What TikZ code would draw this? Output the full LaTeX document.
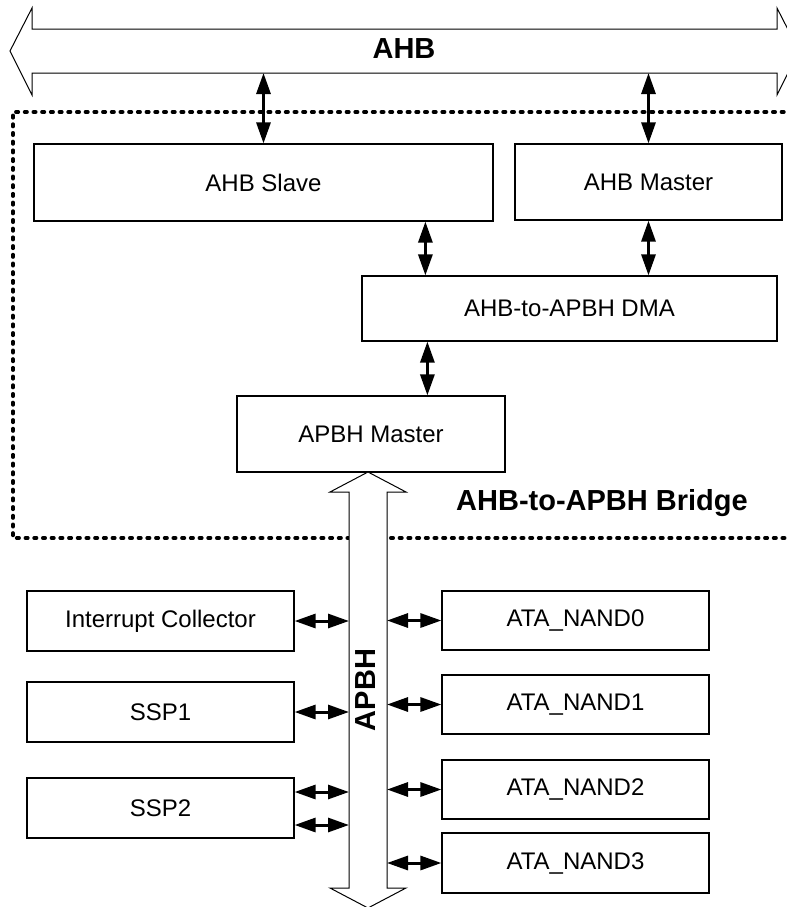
\documentclass[tikz,border=0pt]{standalone}
\usepackage{fontspec}
\setmainfont{Liberation Sans}
\usetikzlibrary{arrows.meta}

\begin{document}
\begin{tikzpicture}[x=0.5pt, y=-0.5pt,
    bloque/.style={draw, line width=0.6pt, fill=white, inner sep=0pt, font=\fontsize{12}{14}\selectfont},
    flecha/.style={line width=1.5pt, {Triangle[length=10.5pt,width=7pt]}-{Triangle[length=10.5pt,width=7pt]}},
    bus/.style={draw, line width=0.5pt, fill=white},
    titulo/.style={font=\bfseries\fontsize{14.5}{17}\selectfont}]
                \useasboundingbox (0,0) rectangle (787,907);

                % Puente AHB-to-APBH (borde punteado)
                \draw[line width=1.8pt, dash pattern=on 1.2pt off 3.15pt, line cap=round] (810,112) -- (13,112) -- (13,538) -- (810,538);
                \node[titulo] (puente) at (602,503) {AHB-to-APBH Bridge};

                % Bus AHB
                \draw[bus] (10,51) -- (32,8) -- (32,29) -- (777,29) -- (777,8) -- (799,51) -- (777,95) -- (777,73) -- (32,73) -- (32,95) -- cycle;
                \node[titulo] (ahb) at (404,49) {AHB};
                \coordinate (ahbbajo) at (0,73);

                % Bloques del puente
                \node[bloque, minimum width=229.5pt, minimum height=38.5pt] (slave) at (263.5,182.5) {AHB Slave};
                \node[bloque, minimum width=133.5pt, minimum height=38pt] (master) at (648.5,182) {AHB Master};
                \node[bloque, minimum width=207.5pt, minimum height=32.5pt] (dma) at (569.5,308.5) {AHB-to-APBH DMA};
                \node[bloque, minimum width=134pt, minimum height=38pt] (apbhm) at (371,434) {APBH Master};

                \draw[flecha] (slave.north) -- (slave.north |- ahbbajo);
                \draw[flecha] (master.north) -- (master.north |- ahbbajo);
                \draw[flecha] ([xshift=32pt]dma.north west) -- ([xshift=32pt]dma.north west |- slave.south);
                \draw[flecha] (master.south) -- (master.south |- dma.north);
                \draw[flecha] ([xshift=33pt]dma.south west) -- ([xshift=33pt]dma.south west |- apbhm.north);

                % Bus APBH
                \draw[bus] (368,472) -- (406,492) -- (387,492) -- (387,888) -- (406,888) -- (368,908) -- (330,888) -- (349,888) -- (349,492) -- (330,492) -- cycle;
                \node[titulo, rotate=90] (apbh) at (366,690) {APBH};
                \coordinate (apbhizq) at (349,0);
                \coordinate (apbhder) at (387,0);

                % Perifericos a la izquierda
                \node[bloque, minimum width=133.5pt, minimum height=30pt] (irq) at (160.5,621) {Interrupt Collector};
                \node[bloque, minimum width=133.5pt, minimum height=30pt] (ssp1) at (160.5,712) {SSP1};
                \node[bloque, minimum width=133.5pt, minimum height=30pt] (ssp2) at (160.5,808) {SSP2};

                \draw[flecha] (irq.east) -- (irq.east -| apbhizq);
                \draw[flecha] (ssp1.east) -- (ssp1.east -| apbhizq);
                \draw[flecha] ([yshift=8pt]ssp2.east) -- ([yshift=8pt]ssp2.east -| apbhizq);
                \draw[flecha] ([yshift=-8.5pt]ssp2.east) -- ([yshift=-8.5pt]ssp2.east -| apbhizq);

                % Perifericos a la derecha
                \node[bloque, minimum width=133.5pt, minimum height=29.5pt] (nand0) at (575.5,620.5) {ATA\_NAND0};
                \node[bloque, minimum width=133.5pt, minimum height=29.5pt] (nand1) at (575.5,704.5) {ATA\_NAND1};
                \node[bloque, minimum width=133.5pt, minimum height=29.5pt] (nand2) at (575.5,789.5) {ATA\_NAND2};
                \node[bloque, minimum width=133.5pt, minimum height=30pt] (nand3) at (575.5,863) {ATA\_NAND3};

                \draw[flecha] (nand0.west) -- (nand0.west -| apbhder);
                \draw[flecha] (nand1.west) -- (nand1.west -| apbhder);
                \draw[flecha] (nand2.west) -- (nand2.west -| apbhder);
                \draw[flecha] (nand3.west) -- (nand3.west -| apbhder);
            \end{tikzpicture}
\end{document}
